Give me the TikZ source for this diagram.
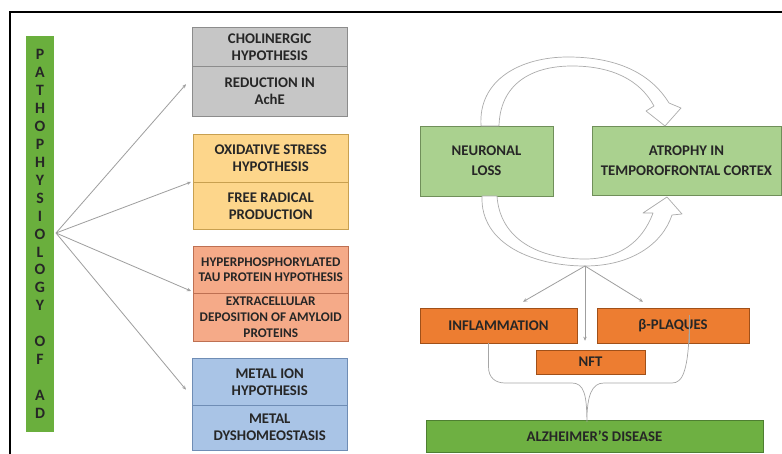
\documentclass[tikz,border=0pt]{standalone}
\usepackage{fontspec}
\setmainfont{Carlito}
\usepackage{tikz}
\usetikzlibrary{arrows.meta}
\definecolor{barleaf}{RGB}{106, 175, 61}
\definecolor{ashbox}{RGB}{198, 198, 198}
\definecolor{ashline}{RGB}{140, 140, 140}
\definecolor{honeybox}{RGB}{253, 214, 139}
\definecolor{honeyline}{RGB}{200, 160, 80}
\definecolor{salmonbox}{RGB}{245, 170, 136}
\definecolor{salmonline}{RGB}{190, 112, 82}
\definecolor{skybox}{RGB}{169, 196, 230}
\definecolor{skyline}{RGB}{111, 141, 181}
\definecolor{mintbox}{RGB}{170, 209, 143}
\definecolor{mintline}{RGB}{112, 143, 90}
\definecolor{carrot}{RGB}{237, 125, 49}
\definecolor{carrotline}{RGB}{160, 80, 25}
\definecolor{fernbox}{RGB}{110, 176, 66}
\definecolor{fernline}{RGB}{78, 127, 49}
\newcommand{\px}{0.03cm}
\tikzset{
    boxfont/.style   = {font=\fontsize{12.6}{14.5}\selectfont\bfseries, text=black!85},
    tightfont/.style = {font=\fontsize{11.3}{13.6}\selectfont\bfseries},
    halfbox/.style   = {draw, boxfont, align=center, inner sep=1pt, anchor=north west,
                        minimum width=155*\px},
    widebox/.style   = {draw, boxfont, align=center, inner sep=1pt},
    thinarrow/.style = {draw=gray!75, line width=0.7pt, -{Stealth[length=3.5pt, width=3pt]}},
    blockarrow/.style= {draw=gray!65, fill=white, line width=0.6pt, line join=round}
}

\begin{document}
\begin{tikzpicture}[x=\px, y=-\px]
            \useasboundingbox (0,0) rectangle (782,454);
            % Frame
            \draw[line width=1.6pt] (10,454) -- (10,12) -- (782,12);
            % Pathophysiology bar
            \node[fill=barleaf, minimum width=28*\px, minimum height=396*\px, inner sep=0pt,
                  align=center, font=\fontsize{13.5}{15.3}\selectfont\bfseries, text=black!85]
                  (patho) at (40,234) {P\\A\\T\\H\\O\\P\\H\\Y\\S\\I\\O\\L\\O\\G\\Y\\~\\O\\F\\~\\A\\D};
            \coordinate (hub) at (56,233);
            % Hypothesis boxes
            \node[halfbox, fill=ashbox,    draw=ashline,    minimum height=39*\px] (chol)  at (192, 27) {CHOLINERGIC\\HYPOTHESIS};
            \node[halfbox, fill=ashbox,    draw=ashline,    minimum height=50*\px] (ache)  at (192, 66) {REDUCTION IN\\AchE};
            \node[halfbox, fill=honeybox,  draw=honeyline,  minimum height=48*\px] (oxid)  at (193,134) {OXIDATIVE STRESS\\HYPOTHESIS};
            \node[halfbox, fill=honeybox,  draw=honeyline,  minimum height=47*\px] (radic) at (193,182) {FREE RADICAL\\PRODUCTION};
            \node[halfbox, fill=salmonbox, draw=salmonline, minimum height=47*\px, tightfont] (tau)  at (193,246) {HYPERPHOSPHORYLATED\\TAU PROTEIN HYPOTHESIS};
            \node[halfbox, fill=salmonbox, draw=salmonline, minimum height=48*\px, tightfont] (amyl) at (193,293) {EXTRACELLULAR\\DEPOSITION OF AMYLOID\\PROTEINS};
            \node[halfbox, fill=skybox,    draw=skyline,    minimum height=47*\px] (metal) at (192,358) {METAL ION\\HYPOTHESIS};
            \node[halfbox, fill=skybox,    draw=skyline,    minimum height=45*\px] (dysh)  at (192,405) {METAL\\DYSHOMEOSTASIS};
            % Fan of arrows
            \draw[thinarrow] (hub) -- ([shift={(-6,-7)}]ache.west);
            \draw[thinarrow] (hub) -- ([shift={(-2,0)}]radic.north west);
            \draw[thinarrow] (hub) -- ([shift={(-2,-2)}]amyl.north west);
            \draw[thinarrow] (hub) -- ([shift={(-6,8)}]metal.west);
            % Cycle boxes
            \node[widebox, fill=mintbox, draw=mintline, minimum width=133*\px, minimum height=70*\px,
                  font=\fontsize{12.6}{17}\selectfont\bfseries] (loss)    at (486.5,161) {NEURONAL\\LOSS};
            \node[widebox, fill=mintbox, draw=mintline, minimum width=189*\px, minimum height=69*\px,
                  font=\fontsize{12.6}{17}\selectfont\bfseries] (atrophy) at (686.5,160.5) {ATROPHY IN\\TEMPOROFRONTAL CORTEX};
            % Upper block arrow
            \draw[blockarrow] (481,126) .. controls (478,80) and (520,57) .. (568,57)
                              .. controls (615,57) and (650,72) .. (669,103)
                              -- (681,108) -- (665,126) -- (646,111) -- (654,106)
                              .. controls (640,80) and (612,66) .. (572,66)
                              .. controls (530,66) and (500,85) .. (499,126) -- cycle;
            % Lower block arrow
            \draw[blockarrow] (482,196) .. controls (480,245) and (535,266) .. (585,266)
                              .. controls (630,266) and (662,245) .. (672,215)
                              -- (682,214) -- (667,197) -- (643,213) -- (653,213)
                              .. controls (642,243) and (618,259) .. (585,259)
                              .. controls (540,259) and (500,240) .. (497,196) -- cycle;
            \coordinate (split) at (585,266);
            % Outcome boxes
            \node[widebox, fill=carrot, draw=carrotline, minimum width=157*\px, minimum height=35*\px] (inflam)  at (498.5,325.5) {INFLAMMATION};
            \node[widebox, fill=carrot, draw=carrotline, minimum width=152*\px, minimum height=35*\px] (plaques) at (673,325.5) {β-PLAQUES};
            \node[widebox, fill=carrot, draw=carrotline, minimum width=109*\px, minimum height=24*\px] (nft)     at (590.5,362) {NFT};
            \draw[thinarrow] (split) -- ([shift={(24.5,-6)}]inflam.north);
            \draw[thinarrow] (split) -- ([shift={(-5.5,-9)}]nft.north);
            \draw[thinarrow] (split) -- ([shift={(-30,-6)}]plaques.north);
            % Alzheimer's disease
            \node[widebox, fill=fernbox, draw=fernline, minimum width=337*\px, minimum height=32*\px] (alz) at (594.5,436) {ALZHEIMER’S DISEASE};
            % Brace
            \coordinate (bleft)  at ([xshift=-8.5]inflam.south);
            \coordinate (bright) at ([xshift=14]plaques.south);
            \coordinate (btip)   at ([xshift=-6.5,yshift=-2]alz.north);
            \draw[gray!70, line width=0.6pt] (bleft) -- ++(0,24) .. controls +(0,10) and (495,383) .. (505,383)
                 -- (572,383) .. controls (584,383) and (btip|-395,395) .. (btip)
                 .. controls (btip|-395,395) and (592,383) .. (604,383)
                 -- (672,383) .. controls (682,383) and (bright|-373,373) .. ([yshift=24]bright) -- (bright);
\end{tikzpicture}
\end{document}
